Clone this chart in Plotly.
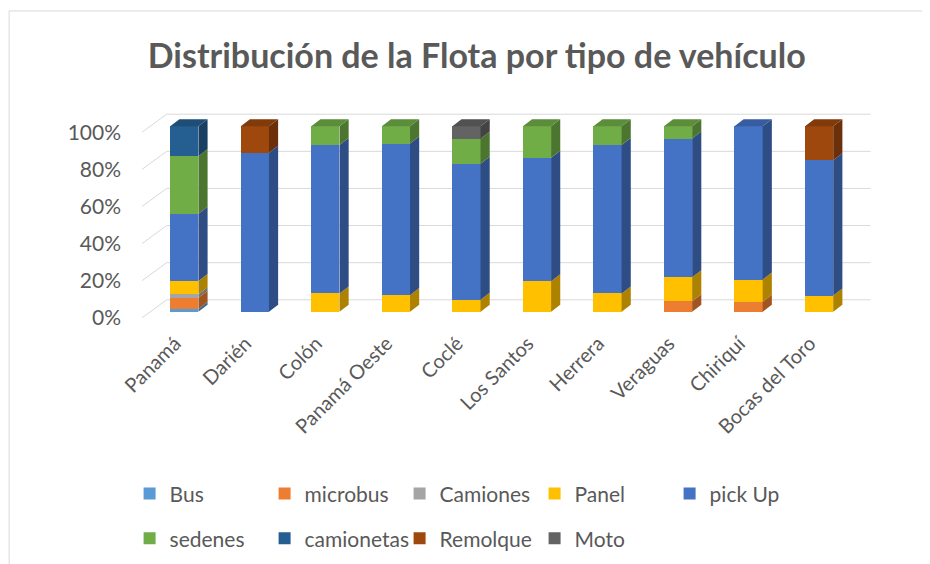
import plotly.graph_objects as go

# provinces (categories)
provincias = ["Panamá", "Darién", "Colón", "Panamá Oeste", "Coclé",
              "Los Santos", "Herrera", "Veraguas", "Chiriquí", "Bocas del Toro"]

# share of the fleet per vehicle type (%)
bus = [1.6, 0, 0, 0, 0, 0, 0, 0, 0, 0]
microbus = [6.0, 0, 0, 0, 0, 0, 0, 5.7, 5.4, 0]
camiones = [1.8, 0, 0, 0, 0, 0, 0, 0, 0, 0]
panel = [7.2, 0, 9.9, 9.0, 6.5, 16.5, 9.9, 12.9, 12.0, 8.8]
pick_up = [36.3, 85.7, 80.0, 81.7, 73.3, 66.5, 80.0, 74.8, 82.6, 72.9]
sedenes = [31.0, 0, 10.1, 9.3, 13.5, 17.0, 10.1, 6.6, 0, 0]
camionetas = [16.1, 0, 0, 0, 0, 0, 0, 0, 0, 0]
remolque = [0, 14.3, 0, 0, 0, 0, 0, 0, 0, 18.3]
moto = [0, 0, 0, 0, 6.7, 0, 0, 0, 0, 0]

y_ticks = [0, 20, 40, 60, 80, 100]

series = [
    ("Bus", bus, "#5B9BD5"),
    ("microbus", microbus, "#ED7D31"),
    ("Camiones", camiones, "#A5A5A5"),
    ("Panel", panel, "#FFC000"),
    ("pick Up", pick_up, "#4472C4"),
    ("sedenes", sedenes, "#70AD47"),
    ("camionetas", camionetas, "#255E91"),
    ("Remolque", remolque, "#9E480E"),
    ("Moto", moto, "#636363"),
]

FONT = "Lato"
GREY = "#595959"
BAR_W = 0.40        # front face width (x units)
DX, DY = 0.13, 3.8  # depth of the fake 3d extrusion
BACK_DY = 6.5       # back wall offset for gridlines
FLOOR_DY = -3.2


def shade(hex_color, f):
    h = hex_color.lstrip("#")
    r, g, b = (int(h[i:i + 2], 16) for i in (0, 2, 4))
    return "#%02x%02x%02x" % (int(r * f), int(g * f), int(b * f))


x_idx = list(range(len(provincias)))
fig = go.Figure()

# front faces
for k, (name, vals, color) in enumerate(series):
    fig.add_trace(go.Bar(
        x=x_idx, y=vals, name=name, marker_color=color,
        marker_line_width=0, width=BAR_W,
        legend="legend" if k < 5 else "legend2",
    ))

# side and top faces, computed from the same stacked values
base = [0.0] * len(provincias)
totals = [sum(s[1][i] for s in series) for i in x_idx]
for name, vals, color in series:
    sx, sy, tx, ty = [], [], [], []
    for i in x_idx:
        v = vals[i]
        if v <= 0:
            continue
        b = base[i]
        x1 = i + BAR_W / 2
        sx += [x1, x1 + DX, x1 + DX, x1, x1, None]
        sy += [b, b + DY, b + v + DY, b + v, b, None]
        if abs(b + v - totals[i]) < 1e-6:
            x0 = i - BAR_W / 2
            t = b + v
            tx += [x0, x0 + DX, x1 + DX, x1, x0, None]
            ty += [t, t + DY, t + DY, t, t, None]
        base[i] += v
    fig.add_trace(go.Scatter(x=sx, y=sy, mode="lines", fill="toself",
                             fillcolor=shade(color, 0.68), line_width=0,
                             hoverinfo="skip", showlegend=False))
    if tx:
        fig.add_trace(go.Scatter(x=tx, y=ty, mode="lines", fill="toself",
                                 fillcolor=shade(color, 0.82), line_width=0,
                                 hoverinfo="skip", showlegend=False))

# slanted 3d-ish gridlines
x_front, x_back, x_end = -0.6, -0.25, 9.73
for t in y_ticks:
    fig.add_shape(type="line", layer="below", x0=x_front, y0=t + FLOOR_DY,
                  x1=x_back, y1=t + BACK_DY, line=dict(color="#D9D9D9", width=1))
    fig.add_shape(type="line", layer="below", x0=x_back, y0=t + BACK_DY,
                  x1=x_end, y1=t + BACK_DY, line=dict(color="#D9D9D9", width=1))

# chart border
fig.add_shape(type="rect", xref="paper", yref="paper", x0=-0.182, y0=-1.5,
              x1=1.3, y1=1.425, line=dict(color="#D9D9D9", width=1))

legend_common = dict(orientation="h", xanchor="left", yanchor="middle",
                     entrywidth=90, entrywidthmode="pixels",
                     traceorder="normal",
                     font=dict(family=FONT, size=21, color=GREY),
                     bgcolor="rgba(0,0,0,0)")

fig.update_layout(
    barmode="stack",
    width=930, height=564,
    margin=dict(l=134, r=66, t=96, b=249),
    paper_bgcolor="white", plot_bgcolor="white",
    title=dict(text="<b>Distribución de la Flota por tipo de vehículo</b>",
               x=0.504, xanchor="center", y=0.915, yanchor="middle",
               font=dict(family=FONT, size=34, color=GREY)),
    xaxis=dict(range=[-0.6, 9.75], tickvals=[i - 0.13 for i in x_idx],
               ticktext=provincias,
               tickangle=-45, showgrid=False, zeroline=False, showline=False,
               ticklabelstandoff=4,
               tickfont=dict(family=FONT, size=20, color=GREY)),
    yaxis=dict(range=[-6, 112], tickvals=[t + FLOOR_DY for t in y_ticks],
               ticktext=["%d%%" % t for t in y_ticks],
               showgrid=False, zeroline=False, showline=False,
               ticklabelstandoff=20,
               tickfont=dict(family=FONT, size=21, color=GREY)),
    legend=dict(x=-0.017, y=-0.78, **legend_common),
    legend2=dict(x=-0.017, y=-0.985, **legend_common),
    showlegend=True,
)

fig.write_html("out.html")
